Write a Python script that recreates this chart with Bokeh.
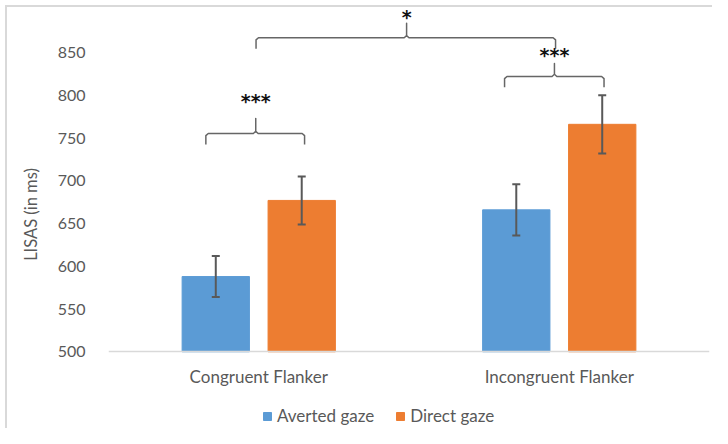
from bokeh.plotting import figure
from bokeh.models import (ColumnDataSource, Whisker, Legend, LegendItem, FactorRange,
                          Range1d, FixedTicker, TeeHead)
from bokeh.transform import dodge
from bokeh.core.properties import value
from bokeh.embed import file_html
from bokeh.resources import INLINE

# ---- data ----
categories = ["Congruent Flanker", "Incongruent Flanker"]
series = ["Averted gaze", "Direct gaze"]
averted = [588, 666]
direct = [677, 766]
averted_err = [24, 30]
direct_err = [28, 34]
y_ticks = [500, 550, 600, 650, 700, 750, 800, 850]

# significance brackets (x in category units, y in LISAS units)
br_left = [0.324, 1.318, 0.491]
br_right = [0.6525, 1.649, 1.4877]
br_mid = [0.49, 1.484, 0.992]
br_arm = [742.4, 809.4, 854.3]
br_bar = [755.3, 822.0, 867.2]
br_tip = [772.8, 837.2, 884.3]
sig_text = ["***", "***", "*"]
sig_y = [793.5, 847.0, 891.5]

FONT = "Lato"
GRAY = "#595959"
BLUE = "#5B9BD5"
ORANGE = "#ED7D31"

src = ColumnDataSource(dict(
    cat=categories,
    averted=averted, direct=direct,
    a_up=[v + e for v, e in zip(averted, averted_err)],
    a_lo=[v - e for v, e in zip(averted, averted_err)],
    d_up=[v + e for v, e in zip(direct, direct_err)],
    d_lo=[v - e for v, e in zip(direct, direct_err)],
))

p = figure(x_range=FactorRange(factors=categories, range_padding=0),
           y_range=Range1d(410.3, 910.8),
           width=712, height=428, output_backend="svg", toolbar_location=None,
           min_border_left=108, min_border_right=3, min_border_top=0, min_border_bottom=0)
p.styles = {"background": "linear-gradient(#d9d9d9,#d9d9d9) 5px 5px / 2px 423px no-repeat, "
                          "linear-gradient(#d9d9d9,#d9d9d9) 5px 5px / 707px 2px no-repeat, white"}
p.border_fill_color = None
p.background_fill_color = None
p.outline_line_color = None
p.xgrid.grid_line_color = None
p.ygrid.grid_line_color = None

off = 0.143
bw = 0.224
r_a = p.vbar(x=dodge("cat", -off, range=p.x_range), top="averted", bottom=500, width=bw,
             source=src, fill_color=BLUE, line_color=BLUE)
r_d = p.vbar(x=dodge("cat", off, range=p.x_range), top="direct", bottom=500, width=bw,
             source=src, fill_color=ORANGE, line_color=ORANGE)

for base, up, lo in [(dodge("cat", -off, range=p.x_range), "a_up", "a_lo"),
                     (dodge("cat", off, range=p.x_range), "d_up", "d_lo")]:
    w = Whisker(base=base, upper=up, lower=lo, source=src, line_color=GRAY, line_width=2,
                upper_head=TeeHead(size=8, line_color=GRAY, line_width=2),
                lower_head=TeeHead(size=8, line_color=GRAY, line_width=2),
                level="overlay")
    p.add_layout(w)

# brackets
xs, ys = [], []
dx, dy = 0.008, 2.5
for l, r, m, a, b, t in zip(br_left, br_right, br_mid, br_arm, br_bar, br_tip):
    xs.append([l, l, l + dx, m - dx, m, m, m, m + dx, r - dx, r, r])
    ys.append([a, b - dy, b, b, b + dy, t, b + dy, b, b, b - dy, a])
p.multi_line(xs, ys, line_color="#666666", line_width=1.5, line_join="round")

p.text(x=br_mid, y=sig_y, text=sig_text, text_align="center", text_baseline="alphabetic",
       text_font=value("DejaVu Sans"), text_font_style="bold", text_font_size="19px",
       text_color="#111111")

# axes
p.yaxis.ticker = FixedTicker(ticks=y_ticks)
p.yaxis.bounds = (500, 895)
p.yaxis.axis_line_color = None
p.yaxis.major_tick_line_color = None
p.yaxis.minor_tick_line_color = None
p.yaxis.major_label_standoff = 17
p.yaxis.major_label_text_font = FONT
p.yaxis.major_label_text_font_size = "16px"
p.yaxis.major_label_text_color = GRAY
p.yaxis.axis_label = "LISAS (in ms)"
p.yaxis.axis_label_text_font = FONT
p.yaxis.axis_label_text_font_size = "16.5px"
p.yaxis.axis_label_text_font_style = "normal"
p.yaxis.axis_label_text_color = GRAY
p.yaxis.axis_label_standoff = 14

p.xaxis.fixed_location = 500
p.xaxis.axis_line_color = "#d9d9d9"
p.xaxis.axis_line_width = 1.5
p.xaxis.major_tick_line_color = None
p.xaxis.minor_tick_line_color = None
p.xaxis.major_label_standoff = 8
p.xaxis.major_label_text_font = FONT
p.xaxis.major_label_text_font_size = "17px"
p.xaxis.major_label_text_color = GRAY

legend = Legend(items=[LegendItem(label=series[0], renderers=[r_a]),
                       LegendItem(label=series[1], renderers=[r_d])],
                orientation="horizontal", location=(154, 2),
                glyph_width=10, glyph_height=10, label_standoff=5, spacing=21,
                border_line_color=None, background_fill_alpha=0, padding=0, margin=0,
                label_text_font=FONT, label_text_font_size="17px", label_text_color=GRAY)
p.add_layout(legend, "center")

open("out.html", "w").write(file_html(p, INLINE))
